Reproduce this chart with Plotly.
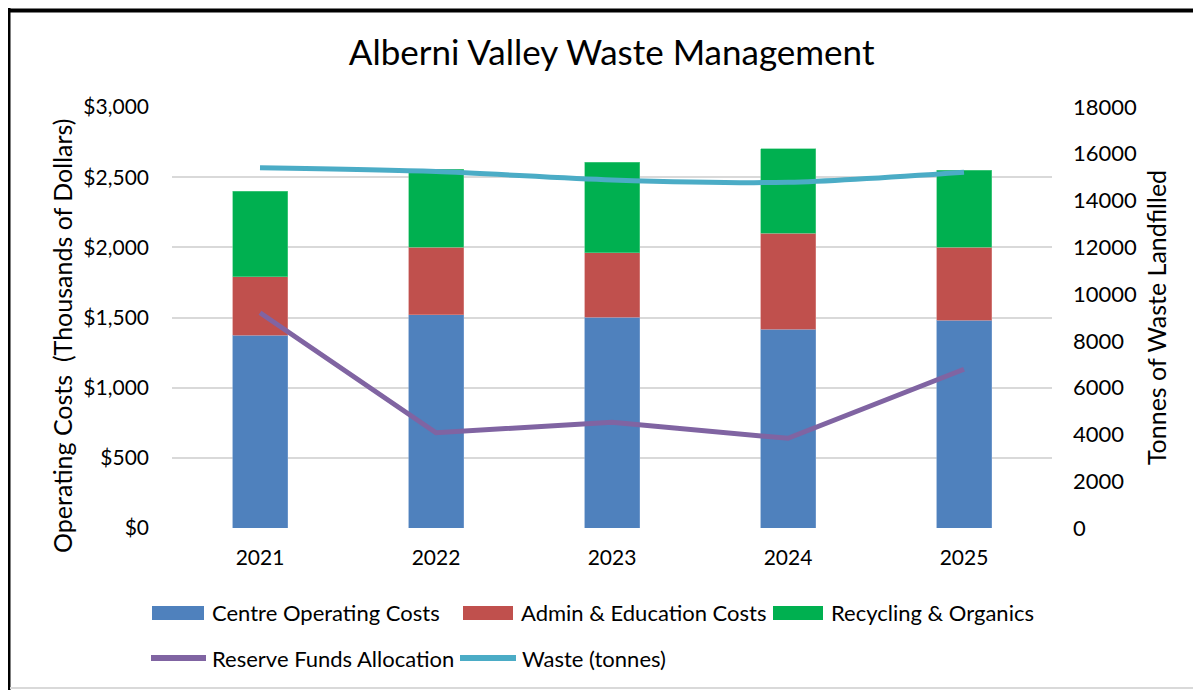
import plotly.graph_objects as go

years = ["2021", "2022", "2023", "2024", "2025"]
centre_operating = [1375, 1518, 1501, 1418, 1480]
admin_education = [414, 484, 459, 682, 520]
recycling_organics = [612, 556, 646, 601, 549]
reserve_funds = [1534, 679, 753, 639, 1131]
waste_tonnes = [15400, 15240, 14880, 14780, 15210]

series_names = ["Centre Operating Costs", "Admin & Education Costs", "Recycling & Organics",
                "Reserve Funds Allocation", "Waste (tonnes)"]
colors = ["#4F81BD", "#C0504D", "#00B050", "#8064A2", "#4BACC6"]
edge_colors = ["#7FA3D0", "#D98C8A", "#5FD08F"]

FONT = "Lato"

# plot area placement (screen pixels) for converting legend layout to paper coords
PX0, PX1, PY0, PY1 = 172.0, 1052.0, 107.0, 528.0
def px(x):
    return (x - PX0) / (PX1 - PX0)
def py(y):
    return (PY1 - y) / (PY1 - PY0)

fig = go.Figure()
for vals, name, c, ec in zip([centre_operating, admin_education, recycling_organics],
                             series_names[:3], colors[:3], edge_colors):
    fig.add_trace(go.Bar(x=years, y=vals, name=name,
                         marker=dict(color=c, line=dict(color=ec, width=0.6))))
fig.add_trace(go.Scatter(x=years, y=reserve_funds, name=series_names[3],
                         mode="lines", line=dict(color=colors[3], width=5)))
fig.add_trace(go.Scatter(x=years, y=waste_tonnes, name=series_names[4],
                         mode="lines", line=dict(color=colors[4], width=5, shape="spline", smoothing=0.8),
                         yaxis="y2"))

# custom legend (wide swatches like the original)
shapes = []
annotations = []
bar_legend = [(152, 204, 210), (463, 513, 519), (773, 823, 829)]
for (x0, x1, tx), name, c in zip(bar_legend, series_names[:3], colors[:3]):
    shapes.append(dict(type="rect", xref="paper", yref="paper",
                       x0=px(x0), x1=px(x1), y0=py(620), y1=py(606),
                       fillcolor=c, line=dict(width=0)))
    annotations.append(dict(text=name, xref="paper", yref="paper", x=px(tx), y=py(612),
                            xanchor="left", yanchor="middle", showarrow=False,
                            font=dict(size=22, family=FONT, color="#000000")))
line_legend = [(151, 206, 210), (460, 516, 520)]
for (x0, x1, tx), name, c in zip(line_legend, series_names[3:], colors[3:]):
    shapes.append(dict(type="line", xref="paper", yref="paper",
                       x0=px(x0), x1=px(x1), y0=py(658), y1=py(658),
                       line=dict(color=c, width=6)))
    annotations.append(dict(text=name, xref="paper", yref="paper", x=px(tx), y=py(658),
                            xanchor="left", yanchor="middle", showarrow=False,
                            font=dict(size=22, family=FONT, color="#000000")))

# left axis title placed like the original (slightly below plot-area centre)
annotations.append(dict(text="Operating Costs  (Thousands of Dollars)", xref="paper", yref="paper",
                        x=px(62), y=py(336), xanchor="center", yanchor="middle",
                        textangle=-90, showarrow=False,
                        font=dict(size=25, family=FONT, color="#000000")))

# chart frame
shapes += [
    dict(type="line", xref="paper", yref="paper", x0=px(8.5), x1=px(8.5),
         y0=py(8), y1=py(700), line=dict(color="black", width=4)),
    dict(type="line", xref="paper", yref="paper", x0=px(6.5), x1=px(1210),
         y0=py(10.5), y1=py(10.5), line=dict(color="black", width=4)),
    dict(type="line", xref="paper", yref="paper", x0=px(10), x1=px(1210),
         y0=py(688), y1=py(688), line=dict(color="#D9D9D9", width=2)),
]

fig.update_layout(
    width=1193, height=682,
    margin=dict(l=164, r=149, t=99, b=162),
    paper_bgcolor="white", plot_bgcolor="white",
    barmode="stack", bargap=0.6875,
    showlegend=False,
    font=dict(family=FONT, color="#000000", size=20),
    title=dict(text="Alberni Valley Waste Management", x=0.506, xanchor="center",
               y=0.934, yanchor="middle", font=dict(family=FONT, size=35, color="#000000")),
    xaxis=dict(showgrid=False, showline=False, ticks="", tickfont=dict(size=21),
               ticklabelstandoff=15),
    yaxis=dict(range=[0, 3000], dtick=500, tickprefix="$", tickformat=",",
               showgrid=True, gridcolor="#D9D9D9", gridwidth=2, zeroline=False,
               showline=False, tickfont=dict(size=21), ticklabelstandoff=22),
    yaxis2=dict(range=[0, 18000], dtick=2000, overlaying="y", side="right",
                showgrid=False, zeroline=False, showline=False, tickformat="d",
                tickfont=dict(size=22), ticklabelstandoff=20,
                title=dict(text="Tonnes of Waste Landfilled", font=dict(size=25), standoff=12)),
    shapes=shapes,
    annotations=annotations,
)

fig.write_html("out.html")
